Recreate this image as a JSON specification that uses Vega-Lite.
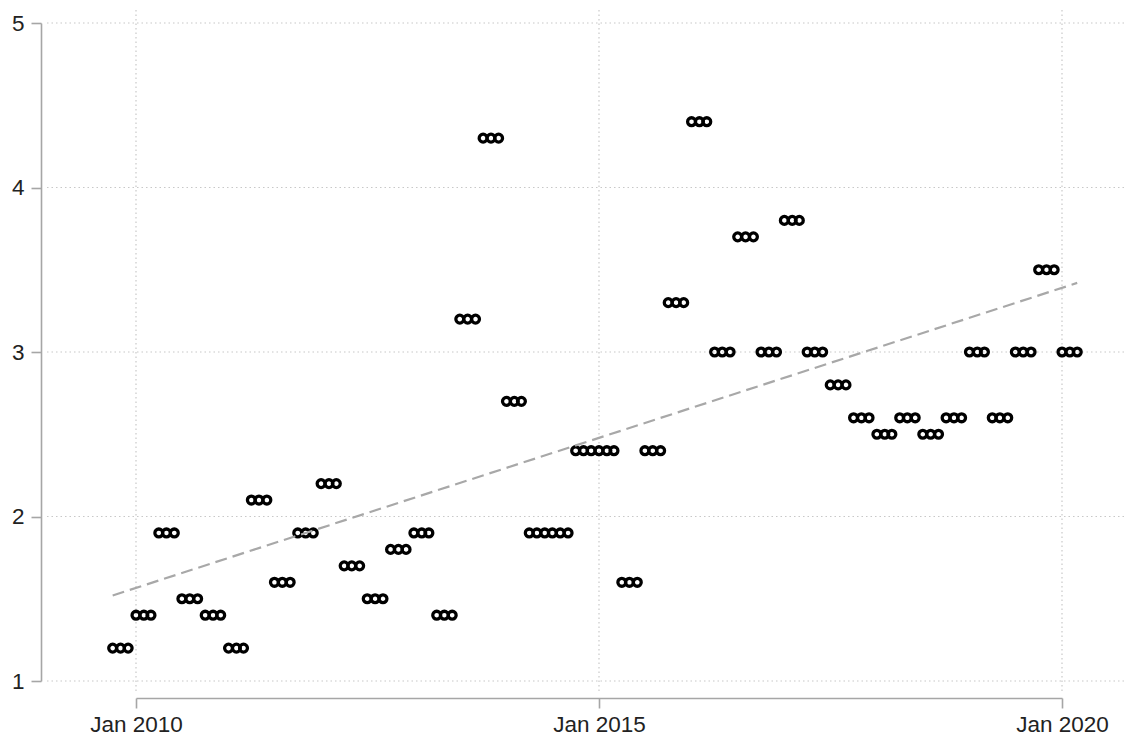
{
  "$schema": "https://vega.github.io/schema/vega-lite/v6.json",
  "width": 1080,
  "height": 684,
  "autosize": "none",
  "padding": {"left": 44, "top": 10, "right": 0, "bottom": 44},
  "background": "white",
  "config": {
    "view": {"stroke": null},
    "axis": {
      "grid": false,
      "title": null,
      "domainColor": "#a6a6a6",
      "domainWidth": 1.6,
      "tickColor": "#a6a6a6",
      "tickWidth": 1.6,
      "tickSize": 10,
      "labelFont": "Liberation Sans",
      "labelFontSize": 22.5,
      "labelColor": "#222222"
    }
  },
  "datasets": {
    "hgrid": [{"value": 1}, {"value": 2}, {"value": 3}, {"value": 4}, {"value": 5}],
    "vgrid": [{"date": "2010-01-01"}, {"date": "2015-01-01"}, {"date": "2020-01-01"}],
    "trend": [{"date": "2009-10-01", "value": 1.52}, {"date": "2020-03-01", "value": 3.42}],
    "series": [
      {"date": "2009-10-01", "value": 1.2}, {"date": "2009-11-01", "value": 1.2}, {"date": "2009-12-01", "value": 1.2},
      {"date": "2010-01-01", "value": 1.4}, {"date": "2010-02-01", "value": 1.4}, {"date": "2010-03-01", "value": 1.4},
      {"date": "2010-04-01", "value": 1.9}, {"date": "2010-05-01", "value": 1.9}, {"date": "2010-06-01", "value": 1.9},
      {"date": "2010-07-01", "value": 1.5}, {"date": "2010-08-01", "value": 1.5}, {"date": "2010-09-01", "value": 1.5},
      {"date": "2010-10-01", "value": 1.4}, {"date": "2010-11-01", "value": 1.4}, {"date": "2010-12-01", "value": 1.4},
      {"date": "2011-01-01", "value": 1.2}, {"date": "2011-02-01", "value": 1.2}, {"date": "2011-03-01", "value": 1.2},
      {"date": "2011-04-01", "value": 2.1}, {"date": "2011-05-01", "value": 2.1}, {"date": "2011-06-01", "value": 2.1},
      {"date": "2011-07-01", "value": 1.6}, {"date": "2011-08-01", "value": 1.6}, {"date": "2011-09-01", "value": 1.6},
      {"date": "2011-10-01", "value": 1.9}, {"date": "2011-11-01", "value": 1.9}, {"date": "2011-12-01", "value": 1.9},
      {"date": "2012-01-01", "value": 2.2}, {"date": "2012-02-01", "value": 2.2}, {"date": "2012-03-01", "value": 2.2},
      {"date": "2012-04-01", "value": 1.7}, {"date": "2012-05-01", "value": 1.7}, {"date": "2012-06-01", "value": 1.7},
      {"date": "2012-07-01", "value": 1.5}, {"date": "2012-08-01", "value": 1.5}, {"date": "2012-09-01", "value": 1.5},
      {"date": "2012-10-01", "value": 1.8}, {"date": "2012-11-01", "value": 1.8}, {"date": "2012-12-01", "value": 1.8},
      {"date": "2013-01-01", "value": 1.9}, {"date": "2013-02-01", "value": 1.9}, {"date": "2013-03-01", "value": 1.9},
      {"date": "2013-04-01", "value": 1.4}, {"date": "2013-05-01", "value": 1.4}, {"date": "2013-06-01", "value": 1.4},
      {"date": "2013-07-01", "value": 3.2}, {"date": "2013-08-01", "value": 3.2}, {"date": "2013-09-01", "value": 3.2},
      {"date": "2013-10-01", "value": 4.3}, {"date": "2013-11-01", "value": 4.3}, {"date": "2013-12-01", "value": 4.3},
      {"date": "2014-01-01", "value": 2.7}, {"date": "2014-02-01", "value": 2.7}, {"date": "2014-03-01", "value": 2.7},
      {"date": "2014-04-01", "value": 1.9}, {"date": "2014-05-01", "value": 1.9}, {"date": "2014-06-01", "value": 1.9},
      {"date": "2014-07-01", "value": 1.9}, {"date": "2014-08-01", "value": 1.9}, {"date": "2014-09-01", "value": 1.9},
      {"date": "2014-10-01", "value": 2.4}, {"date": "2014-11-01", "value": 2.4}, {"date": "2014-12-01", "value": 2.4},
      {"date": "2015-01-01", "value": 2.4}, {"date": "2015-02-01", "value": 2.4}, {"date": "2015-03-01", "value": 2.4},
      {"date": "2015-04-01", "value": 1.6}, {"date": "2015-05-01", "value": 1.6}, {"date": "2015-06-01", "value": 1.6},
      {"date": "2015-07-01", "value": 2.4}, {"date": "2015-08-01", "value": 2.4}, {"date": "2015-09-01", "value": 2.4},
      {"date": "2015-10-01", "value": 3.3}, {"date": "2015-11-01", "value": 3.3}, {"date": "2015-12-01", "value": 3.3},
      {"date": "2016-01-01", "value": 4.4}, {"date": "2016-02-01", "value": 4.4}, {"date": "2016-03-01", "value": 4.4},
      {"date": "2016-04-01", "value": 3.0}, {"date": "2016-05-01", "value": 3.0}, {"date": "2016-06-01", "value": 3.0},
      {"date": "2016-07-01", "value": 3.7}, {"date": "2016-08-01", "value": 3.7}, {"date": "2016-09-01", "value": 3.7},
      {"date": "2016-10-01", "value": 3.0}, {"date": "2016-11-01", "value": 3.0}, {"date": "2016-12-01", "value": 3.0},
      {"date": "2017-01-01", "value": 3.8}, {"date": "2017-02-01", "value": 3.8}, {"date": "2017-03-01", "value": 3.8},
      {"date": "2017-04-01", "value": 3.0}, {"date": "2017-05-01", "value": 3.0}, {"date": "2017-06-01", "value": 3.0},
      {"date": "2017-07-01", "value": 2.8}, {"date": "2017-08-01", "value": 2.8}, {"date": "2017-09-01", "value": 2.8},
      {"date": "2017-10-01", "value": 2.6}, {"date": "2017-11-01", "value": 2.6}, {"date": "2017-12-01", "value": 2.6},
      {"date": "2018-01-01", "value": 2.5}, {"date": "2018-02-01", "value": 2.5}, {"date": "2018-03-01", "value": 2.5},
      {"date": "2018-04-01", "value": 2.6}, {"date": "2018-05-01", "value": 2.6}, {"date": "2018-06-01", "value": 2.6},
      {"date": "2018-07-01", "value": 2.5}, {"date": "2018-08-01", "value": 2.5}, {"date": "2018-09-01", "value": 2.5},
      {"date": "2018-10-01", "value": 2.6}, {"date": "2018-11-01", "value": 2.6}, {"date": "2018-12-01", "value": 2.6},
      {"date": "2019-01-01", "value": 3.0}, {"date": "2019-02-01", "value": 3.0}, {"date": "2019-03-01", "value": 3.0},
      {"date": "2019-04-01", "value": 2.6}, {"date": "2019-05-01", "value": 2.6}, {"date": "2019-06-01", "value": 2.6},
      {"date": "2019-07-01", "value": 3.0}, {"date": "2019-08-01", "value": 3.0}, {"date": "2019-09-01", "value": 3.0},
      {"date": "2019-10-01", "value": 3.5}, {"date": "2019-11-01", "value": 3.5}, {"date": "2019-12-01", "value": 3.5},
      {"date": "2020-01-01", "value": 3.0}, {"date": "2020-02-01", "value": 3.0}, {"date": "2020-03-01", "value": 3.0}
    ]
  },
  "layer": [
    {
      "data": {"name": "hgrid"},
      "mark": {"type": "rule", "color": "#c8c8c8", "strokeWidth": 1.2, "strokeDash": [1.5, 3]},
      "encoding": {
        "y": {"field": "value", "type": "quantitative",
              "scale": {"domain": [1, 5], "range": [671, 13], "nice": false, "zero": false},
              "axis": {"orient": "left", "offset": 3, "labelPadding": 7, "values": [1, 2, 3, 4, 5], "format": "d"}}
      }
    },
    {
      "data": {"name": "vgrid"},
      "mark": {"type": "rule", "color": "#c8c8c8", "strokeWidth": 1.2, "strokeDash": [1.5, 3]},
      "encoding": {
        "x": {"field": "date", "type": "temporal",
              "scale": {"type": "utc",
                        "domain": [{"year": 2010, "month": 1, "date": 1, "utc": true}, {"year": 2020, "month": 1, "date": 1, "utc": true}],
                        "range": [92, 1018]},
              "axis": {"orient": "bottom", "offset": 4, "labelPadding": 5,
                       "values": [{"year": 2010, "month": 1, "date": 1, "utc": true}, {"year": 2015, "month": 1, "date": 1, "utc": true}, {"year": 2020, "month": 1, "date": 1, "utc": true}],
                       "labelExpr": "utcFormat(datum.value, '%b %Y')", "labelFlush": false, "labelOverlap": false}}
      }
    },
    {
      "data": {"name": "series"},
      "mark": {"type": "point", "shape": "circle", "filled": false, "color": "black", "size": 62, "strokeWidth": 3.3, "opacity": 1},
      "encoding": {
        "x": {"field": "date", "type": "temporal"},
        "y": {"field": "value", "type": "quantitative"}
      }
    },
    {
      "data": {"name": "trend"},
      "mark": {"type": "line", "color": "#a8a8a8", "strokeWidth": 2.2, "strokeDash": [12, 6]},
      "encoding": {
        "x": {"field": "date", "type": "temporal"},
        "y": {"field": "value", "type": "quantitative"}
      }
    }
  ]
}
